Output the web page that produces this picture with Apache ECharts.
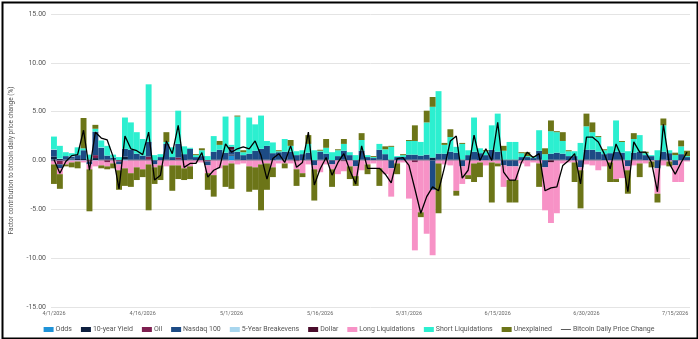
<!DOCTYPE html>
<html>
<head>
<meta charset="utf-8">
<script src="https://cdn.jsdelivr.net/npm/echarts@6/dist/echarts.min.js"></script>
<style>
html,body{margin:0;padding:0;background:#fff;}
#chart{width:698px;height:339px;}
</style>
</head>
<body>
<div id="chart"></div>
<script>
// Categories: daily dates 4/1/2026 .. 7/17/2026 (108 days)
const startDate = new Date(2026, 3, 1);
const categories = [];
for (let i = 0; i < 108; i++) {
  const d = new Date(startDate.getFullYear(), startDate.getMonth(), startDate.getDate() + i);
  categories.push((d.getMonth() + 1) + '/' + d.getDate() + '/' + d.getFullYear());
}
const yTicks = { min: -15, max: 15, interval: 5 };

const odds = [0.1,0.05,0.1,0.1,0.05,0.05,0,0.05,0,0, 0,0,0.1,0,0,0,0,0,0,0, 0,0,0,0,0,0,0,0,0,0, 0.5,0,0,0,0,0,0,0,0.1,0, 0,0,0,0,0,0,0,0,0,0, 0,0,0,0,0,0,0,0,0,0, 0,0,0,0,0,0,0,0,0,0, 0,0,0,0,0,0,0,0,0,0, 0,0,0,0,0,0,0,0,0,0, 0,0,0,0,0,0,0,0,0,0, 0,0,0,0,0,0,0,0];
const yield10 = [0.3,0.1,0.05,0.1,0.1,0.1,0.1,0.2,0.1,0.1, 0.1,0.05,0.3,0.1,0.1,0.1,0.1,0.05,0.05,0.1, 0.05,0.1,0.05,0.1,0.05,0.05,0.05,0.1,0.1,0.1, 0.1,0.1,0.05,0.1,0.1,0.1,0.1,0.05,0.05,0.1, 0.1,0.05,0.05,0.1,0.05,0.1,0.1,0.05,0.05,0.1, 0.05,0.05,0.1,0.05,0.05,0.1,0.05,0.1,0.05,0.05, 0.1,0.1,0.1,0.1,0.3,0.1,0.1,0.1,0.1,0.1, 0.05,0.1,0.05,0.05,0.1,0.1,0.1,0.1,0.1,0.05, 0.05,0.05,0.1,0.05,0.1,0.1,0.1,0.05,0.05,0.1, 0.1,0.1,0.1,0.05,0.05,0.1,0.1,0.05,0.1,0.1, 0.05,0.05,0.05,0.1,0.05,0.05,0.05,0.05];
const oil = [-0.1,-0.4,-0.1,0,0,0,-0.1,0.3,0,-0.2, 0,-0.1,0,0,0,0,0.3,0,0,0, 0,0.2,0,0,0,0,-0.1,0,0,0, 0,0,0,0,0,0,0,0,0,0, 0,-0.1,0,0,0,0,0,0,0,-0.1, 0,0,0,0,0,0,0,0,0,0, 0,-0.2,0,0,0,0,0,0,0,0, 0,0,0,0,0,0,0,0,0,0, 0,0,0,0,0,0,0,0,0,0, 0,0,0,0,0,0,0,0,0,0, 0,0,0,0,0,0,0,0];
const nasdaq100 = [0.7,-0.4,0.3,0.2,0.4,0.9,-0.3,2.4,1.2,0.4, 0.2,-0.3,0.8,1.0,0.6,0.4,1.5,-0.4,0.3,1.6, 0.3,1.4,0.6,1.1,0.3,0.4,-0.4,0.8,1.0,0.7, 0.5,0.8,0.5,0.6,0.9,1.1,1.4,0.7,0.7,0.8, 0.8,0.5,0.6,0.7,-0.5,0.8,0.6,-0.4,0.4,0.9, 0.5,-0.6,0.9,0.3,0.2,1.0,0.6,-0.8,0.3,0.3, 0.5,0.5,0.4,0.5,-3.0,0.6,0.6,0.8,0.7,-0.6, 0.5,0.8,0.7,0.5,1.0,0.8,-0.5,-0.6,-0.6,0.3, 0.3,0.2,0.9,-0.7,0.6,0.7,0.6,0.4,0.4,-0.7, 1.0,1.0,0.8,0.6,0.7,0.8,0.7,-0.6,0.7,0.8, 0.5,0.4,-0.8,0.8,0.7,-0.5,0.6,0.3];
const breakevens5 = [0.05,0.05,0,0.05,0,0,0,0,0.05,0, 0,0,0,0,0,0,0,0,0,0, 0,0,0,0,0,0,0,0,0,0, 0,0,0,0,0,0,0,0,0,0, 0,0,0,0,0,0,0,0,0,0, 0,0,0,0,0,0,0,0,0,0, 0,0,0,0,0,0,0,0,0,0, 0,0,0,0,0,0,0,0,0,0, 0,0,0,0,0,0,0,0,0,0, 0,0,0,0,0,0,0,0,0,0, 0,0,0,0,0,0,0,0];
const dollar = [0,0,0,0,0,0,0,0,0,0, 0,0,0,0,0,0,0,0,0,0, 0,0,0,0,0,0,0,0,0,0, 0.3,0,0,0,0,0,0,0,0,0, 0,0,0,0,0,0,0,0,0,0, 0,0,0,0,0,0,0,0,0,0, 0,0,0,0,0,0,0,0,0,0, 0,0,0,0,0,0,0,0,0,0, 0,0,0,0,-0.2,0,0,0,0,0, 0,0,0,0,0,0,0,0,0,0, 0,0,0,0,0,0,0,0];
const longLiq = [-0.3,-0.6,-0.3,-0.2,-0.1,-0.2,-0.5,-0.6,-0.5,-0.4, -0.3,-0.6,-0.8,-1.3,-0.7,-0.9,-0.4,-0.3,-0.5,-0.6, -0.5,-0.5,-0.8,-0.6,-0.2,-0.2,-0.8,-1.5,-0.8,-0.5, -0.3,-0.4,-0.3,-0.6,-0.7,-0.4,-0.3,-0.7,-0.3,-0.3, -0.3,-0.8,-1.3,-0.4,-0.4,-1.2,-0.4,-0.5,-1.4,-1.0, -0.6,-1.0,-1.0,-0.4,-0.3,-0.8,-1.4,-2.9,-0.3,-0.2, -3.9,-9.0,-5.3,-7.5,-6.7,-0.3,-0.4,-0.5,-3.1,-1.8, -1.5,-0.3,-0.2,-0.5,-0.2,-0.3,-2.2,-1.4,-1.4,-0.3, -0.6,-0.2,-0.3,-4.4,-6.2,-5.4,-0.3,-0.2,-0.2,-0.3, -0.4,-0.5,-1.0,-0.6,-0.2,-1.9,-1.8,-0.4,-0.5,-0.3, -0.3,-0.1,-2.6,-0.5,-0.1,-1.7,-2.2,-0.1];
const shortLiq = [1.3,1.3,0.4,0.3,0.8,0.2,0.5,0.3,0.7,1.0, 0.3,0.3,3.2,2.8,2.2,1.7,5.9,0.5,0.3,0.2, 1.0,3.4,0.8,0.1,0.2,0.6,0.4,1.6,0.5,3.7, 0.2,3.6,0.3,3.7,2.7,3.4,0.5,1.1,0.1,1.3, 0.6,0.4,0.4,0.9,1.0,0.1,0.6,0.8,0.6,0.7, 0.3,0.5,1.1,0.2,0.1,0.6,0.5,1.3,0.1,0.2, 1.4,1.4,1.4,3.3,5.2,6.4,0.9,1.5,0.6,1.6, 0.5,3.5,0.5,0.4,2.5,3.9,0.9,1.8,1.8,0.4, 0.1,0.1,2.1,0.6,2.3,2.1,1.3,0.5,0.5,1.7, 2.4,1.8,1.5,0.4,0.7,3.2,1.1,0.9,1.4,1.7, 0.2,0.1,1.0,2.7,0.3,0.5,0.8,0.1];
const unexplained = [-2.0,-1.5,-0.2,-0.5,-0.7,3.1,-4.3,0.4,-0.3,-0.3, -0.5,-2.0,-1.8,-1.4,-1.3,-0.8,-4.7,-1.7,-1.5,1.0, -2.6,-1.4,-1.2,-1.3,0.1,0.2,-1.7,-2.2,0.4,-2.2, -2.6,0.1,0.2,-2.6,-2.3,-4.7,-2.7,-1.0,0.1,-0.5, 0.6,-1.7,-0.4,0.9,-3.2,0.1,0.9,-1.8,0.1,0.5, -1.3,-1.0,0.7,-1.0,0.1,-1.8,0.3,0.1,-1.1,0.1, 0.1,1.6,-0.5,1.2,1.0,-5.1,0.2,0.8,-0.5,0.1, -0.4,-1.9,-1.5,0.1,-4.1,-0.3,0.5,-2.3,-2.3,0.1, 0.4,0.1,-2.4,0.6,1.1,0.1,0.9,0.1,-2.0,-3.9, 1.3,1.0,0.1,0.1,-2.0,-0.3,0.1,-2.4,0.6,-1.4, 0.15,-0.6,-0.9,0.7,-0.5,0.25,0.6,0.55];
const bitcoinChange = [0.1,-1.3,-0.1,0.5,0.6,3.1,-1.0,2.9,2.3,2.1, 0.4,-2.9,2.5,1.2,1.0,0.6,2.9,-2.0,-1.5,2.0, 0.7,3.6,-0.7,-0.3,-0.3,0.8,-1.7,-1.0,-0.7,1.7, 0.85,1.2,1.4,1.2,2.0,0.5,-1.9,0.2,0.7,-0.2, 1.5,-0.7,-0.2,2.9,-2.5,-0.85,0.3,-1.5,-0.2,0.7, -1.0,-2.4,1.5,-0.8,-0.8,-0.8,-1.4,-2.3,0.2,0.3, -0.5,-2.9,-5.4,-3.7,-2.7,-3.1,-0.7,2.0,2.5,-1.8, -1.0,2.6,0.0,1.2,0.0,3.9,-1.2,-2.0,-2.0,-0.2, 0.85,0.3,0.7,-3.1,-2.8,-2.7,-0.5,0.0,0.7,-2.4, 2.4,2.4,1.9,0.7,-0.85,1.7,0.3,-3.2,1.9,0.85, 0.85,-0.2,-3.2,3.7,-0.3,-1.4,-0.2,0.85];

const barSeries = [
  ['Odds', odds, '#1f93d8'],
  ['10-year Yield', yield10, '#0d1f3f'],
  ['Oil', oil, '#7e1f50'],
  ['Nasdaq 100', nasdaq100, '#1d4b85'],
  ['5-Year Breakevens', breakevens5, '#a8d6ee'],
  ['Dollar', dollar, '#4b0d2c'],
  ['Long Liquidations', longLiq, '#f792c6'],
  ['Short Liquidations', shortLiq, '#2cefd0'],
  ['Unexplained', unexplained, '#6c7518']
];

const series = barSeries.map(([name, data, color]) => ({
  name, type: 'bar', stack: 'total', data,
  itemStyle: { color },
  barCategoryGap: '0%',
  emphasis: { disabled: true }
}));
series.push({
  name: 'Bitcoin Daily Price Change', type: 'line', data: bitcoinChange,
  symbol: 'none', z: 10,
  lineStyle: { color: '#000', width: 1.3 },
  itemStyle: { color: '#333' }
});

const font = "'Liberation Sans Narrow', Roboto, sans-serif";
const chart = echarts.init(document.getElementById('chart'), null, { renderer: 'canvas' });
chart.setOption({
  animation: false,
  backgroundColor: '#fff',
  textStyle: { fontFamily: font },
  grid: { left: 45, right: 8, top: 14, bottom: 32 },
  legend: {
    top: 321, left: 'center', itemWidth: 10, itemHeight: 5, itemGap: 9,
    textStyle: { fontSize: 7, color: '#555', fontFamily: font, padding: [0, 0, 0, -3] },
    data: barSeries.map(s => ({ name: s[0], icon: 'rect' })).concat([{
      name: 'Bitcoin Daily Price Change',
      icon: 'path://M0,0 L0,0 M0,4.2 L20,4.2 L20,5.8 L0,5.8 Z M0,10 L0,10'
    }])
  },
  xAxis: {
    type: 'category', data: categories, boundaryGap: true,
    axisLine: { show: false, onZero: false }, axisTick: { show: false },
    axisLabel: { interval: 14, fontSize: 5.5, color: '#666', margin: 4, fontFamily: font },
    splitLine: { show: false }
  },
  yAxis: {
    type: 'value', min: yTicks.min, max: yTicks.max, interval: yTicks.interval,
    name: 'Factor contribution to bitcoin daily price change (%)',
    nameLocation: 'middle', nameGap: 36, nameRotate: 90,
    nameTextStyle: { fontSize: 6.5, color: '#555', fontFamily: font },
    axisLabel: { formatter: v => v.toFixed(2), fontSize: 7, color: '#555', margin: 5, fontFamily: font },
    splitLine: { lineStyle: { color: '#e4e4e4', width: 1 } },
    axisLine: { show: false }, axisTick: { show: false }
  },
  graphic: [{
    type: 'rect', left: 0, top: 0, silent: true, z: 100,
    shape: { x: 1, y: 1, width: 695, height: 336 },
    style: { fill: 'none', stroke: '#000', lineWidth: 2 }
  }],
  series
});
</script>
</body>
</html>
